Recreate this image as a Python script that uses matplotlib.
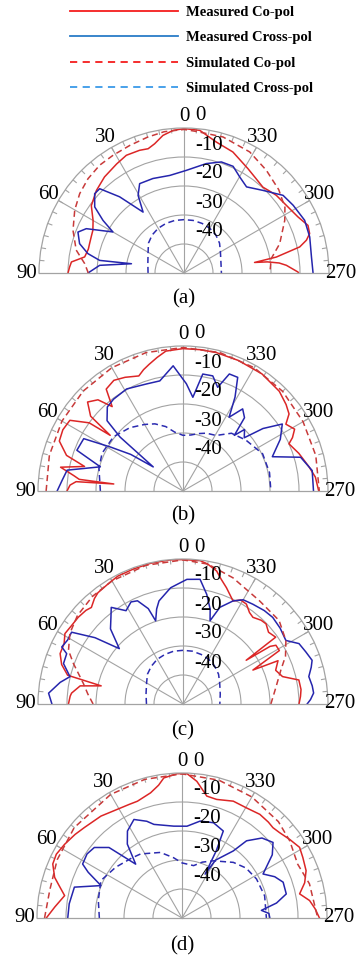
import numpy as np
import matplotlib.pyplot as plt
from matplotlib.lines import Line2D

plt.rcParams['font.family'] = ['Liberation Serif', 'DejaVu Serif']

# ---------- data: angle in deg (+ = left half, 30/60/90; - = right half, 330/300/270), level in dB ----------
# (a)
a_co_meas_th = [90, 87, 84.4, 80.8, 76, 72.7, 68, 64.9, 60, 54, 46.7, 39.6, 31.7, 26.1, 19.9, 16.1, 12.8, 8.7, 4.4,
                0, -6.3, -13.9, -22, -31.5, -37, -42.6, -46, -49.9, -56.5, -63.8, -69, -72.6, -75, -77.3, -80.2,
                -81.5, -82.4, -84, -85.7, -89.5, -90]
a_co_meas_db = [-10, -10.5, -11, -15.3, -16, -15.9, -15.6, -15.3, -13.8, -10.5, -8.5, -7, -5.8, -4.8, -5.0, -5.4,
                -4.3, -2, -0.7, -0.2, -0.5, -3.5, -5, -7.8, -9, -9.8, -9.2, -8.4, -7.7, -6.2, -4.2, -4.6, -6.3,
                -9.1, -17.7, -25.4, -21, -17, -14.6, -10.7, -10.5]
a_co_sim_th = [90, 84.6, 78, 69, 60, 52.7, 45.5, 38, 31, 23, 15, 8, 0, -5, -16, -28.5, -38.7, -48.7, -57, -62.4,
               -73, -80.6, -90]
a_co_sim_db = [-17, -15.6, -12, -9, -6.5, -4.8, -3.6, -2.8, -2.6, -2.2, -1.5, -0.8, -0.5, -1.0, -1.2, -2.5, -4.6,
               -6.5, -8.5, -10.8, -15.5, -19.5, -20.4]
a_x_meas_th = [90, 84.8, 80, 81.5, 78.6, 74.3, 68.9, 65.6, 60, 57, 53.5, 48.4, 45, 40.2, 33.9, 30.6, 26.4, 18.2,
               8.3, -1.3, -11.5, -18.6, -24.7, -30.1, -36, -43.7, -51.9, -58.2, -66.4, -74, -82.8, -90]
a_x_meas_db = [-16.9, -20.8, -31.6, -20.6, -16.2, -12.6, -10.8, -13, -21.7, -16.7, -11.7, -8.8, -8.9, -15.6,
               -24.7, -18.9, -15.6, -15.7, -16, -14.6, -11.5, -9.6, -9.5, -11.7, -13.3, -10.6, -6.6, -5.7, -4.6,
               -4.9, -5.7, -5.5]
a_x_sim_th = [90, 75, 60, 50, 40, 30, 20, 10, 0, -10, -20, -30, -40, -50, -60, -75, -90]
a_x_sim_db = [-37.6, -37.1, -35.7, -34, -32.9, -32.2, -31.8, -31.6, -31.6, -31.6, -31.8, -32.2, -32.9, -34, -35.5,
              -36.8, -37.1]

# (b)
b_co_meas_th = [90, 87, 85, 84.2, 83.6, 82, 79, 76, 73, 68, 63, 58, 54, 52.6, 51, 47, 43, 40, 37, 32, 27, 21, 18,
                15, 11, 7, 0, -7, -13.5, -23, -34, -44, -50, -54, -57, -61, -64, -66, -72, -79, -84, -90]
b_co_meas_db = [-10, -11, -13, -26, -14, -12, -7, -15, -8, -4, -3.5, -4, -10, -18.4, -9, -5, -7, -12, -6, -5, -6,
                -7.5, -6, -4.8, -3.1, -1.4, -0.9, -0.9, -0.9, -1.1, -1.3, -2.2, -3.6, -4.8, -7.7, -6, -8, -10, -8,
                -5.8, -4.1, -3.2]
b_co_sim_th = [90, 75, 60, 45, 30, 15, 0, -15, -30, -45, -60, -75, -90]
b_co_sim_db = [-2.8, -2.3, -1.8, -1.3, -0.9, -0.6, -0.5, -0.6, -0.9, -1.4, -2.2, -2.6, -3]
b_x_meas_th = [90, 84.8, 79.8, 73.7, 69, 62.2, 58.8, 55, 51, 49.4, 47.2, 42, 37.1, 28.9, 18.8, 11.9, 4.5, -1.8,
               -6, -9.6, -14.5, -18.5, -21.6, -25.7, -29, -32, -36, -40, -42.7, -45, -49, -52, -56, -62, -69, -74,
               -81, -90]
b_x_meas_db = [-6.6, -8.2, -9.4, -20.3, -10.8, -11.3, -20.7, -28, -36.8, -21.4, -14.3, -11, -10.3, -9.8, -11,
               -11.2, -6.7, -13, -17.5, -9.1, -9, -12.3, -6.6, -6.5, -13, -20, -15, -17, -23.9, -20, -22, -15, -8.7,
               -12, -17, -7.8, -4.9, -5]
b_x_sim_th = [90, 75, 65, 52, 40, 30, 22.7, 15, 8, 0, -8, -15, -22, -30.8, -40, -51, -65, -78, -90]
b_x_sim_db = [-21.5, -20, -19.2, -19.6, -21.5, -23.5, -24.9, -27, -29.5, -30.8, -30.5, -29.5, -28.5, -27.7, -24,
              -22.1, -19.7, -19.5, -19.7]

# (c)
c_co_meas_th = [90, 86, 84.4, 80, 77.5, 76, 72, 67.7, 63, 59.2, 55, 50.4, 46, 43.5, 40, 37.4, 32, 27, 20, 12.9, 5,
                0, -6.8, -10, -14.2, -17, -20.5, -25.9, -29, -32.4, -36, -38.9, -43, -46, -50, -54.2, -55.3,
                -56.5, -57.7, -61, -64.1, -65.5, -70, -74.6, -78.3, -83, -86.3, -90]
c_co_meas_db = [-10.5, -11, -11.4, -14, -21.1, -9, -6, -4.2, -4, -2.6, -3, -3.1, -3.5, -4.1, -2.5, -1.7, -1.2,
                -0.5, -0.4, -0.2, -0.1, -0.2, -0.2, -1, -2.7, -5, -7.2, -10.5, -9, -9.2, -11, -11.6, -10.5, -10.2,
                -11.5, -10.6, -23.5, -14, -12.1, -12, -23.2, -14, -16, -14.4, -9.2, -9, -9.4, -10]
c_co_sim_th = [90, 84, 78.3, 69.7, 64.9, 58, 50, 40, 30, 15, 0, -10, -21.6, -36.5, -49, -58.3, -65, -70.9, -80,
               -90]
c_co_sim_db = [-19, -17, -14.9, -9.7, -6.4, -4, -2.5, -1.5, -1, -0.5, -0.3, -1, -3.2, -5.7, -6.1, -8.3, -11,
               -14.3, -17.5, -19.7]
c_x_meas_th = [90, 85.4, 80, 76.4, 71.3, 66.6, 64.8, 61, 57.2, 53, 49, 44, 39.7, 36.6, 31.4, 27, 23.8, 20, 18.2,
               15.5, 13.1, 6.1, 2.8, -1.8, -7.8, -12.2, -16, -18, -20.9, -25.9, -30, -35, -41, -46, -52, -58.3,
               -62.5, -67, -71.3, -74, -77.7, -82, -85.2, -88, -90]
c_x_meas_db = [-4.8, -3.5, -7, -9.9, -6.5, -6.3, -3.8, -4.5, -4.3, -12, -20.9, -14, -11.1, -8.5, -12.3, -10.5,
               -11.1, -15, -19.8, -16, -13.5, -9.7, -8.7, -7, -6.6, -11.3, -16, -19.8, -14.3, -10.5, -8.5, -8, -7.3,
               -7, -7.5, -8.3, -4.9, -4, -3, -4, -5.6, -5, -4.8, -6, -7.2]
c_x_sim_th = [90, 75, 60, 50, 40, 30, 20, 10, 0, -10, -20, -30, -40, -50, -60, -75, -90]
c_x_sim_db = [-37.4, -36.8, -35.5, -34, -33, -32.2, -31.8, -31.5, -31.5, -31.5, -31.8, -32.2, -33, -34, -35.4,
              -36.7, -37.3]

# (d)
d_co_meas_th = [90, 85, 79.2, 75, 72.3, 67.3, 63.1, 57.9, 52, 47.2, 38.5, 30.7, 25, 20.9, 14.1, 10, 7.4, 2, -2,
                -6.2, -11.5, -16.3, -23.7, -30.4, -36.9, -42, -45.2, -48.8, -54, -59, -63.4, -69.1, -74, -78.4,
                -82.2, -86, -90]
d_co_meas_db = [-3.2, -6, -8.8, -6, -3.9, -1.7, -1.4, -2.2, -3.2, -4.1, -5.1, -6.4, -6.8, -6.9, -5.5, -3.5, -1.3,
                -0.2, -0.2, -2.6, -7.1, -7.4, -6, -6, -5.3, -5.5, -5.8, -5.3, -4, -2.7, -3.4, -4.2, -6, -8.6, -5.6,
                -4, -2.6]
d_co_sim_th = [90, 78, 65, 50, 30, 15, 0, -15, -30, -45, -54.4, -65, -75, -90]
d_co_sim_db = [-2.6, -3.4, -2.5, -1.5, -0.8, -0.5, -0.3, -0.8, -1.8, -3, -4.3, -6, -4.5, -3.2]
d_x_meas_th = [90, 82.8, 74, 68.2, 64, 61.5, 56, 51.2, 46, 40.7, 36.5, 32.1, 26, 20, 16.7, 5.1, -3.1, -10.6, -18.3,
               -25.4, -27, -27.8, -30, -37.4, -39.9, -45, -50.3, -55, -61.5, -66, -70.5, -77, -81, -84.5, -87, -90]
d_x_meas_db = [-10.6, -10.8, -11.4, -19.9, -14, -11, -10.5, -11.2, -15, -25.5, -18.3, -14.6, -12.2, -14.5, -16.3,
               -18.2, -18.3, -16, -15.4, -16.8, -24, -32.9, -27, -20.9, -15.3, -11, -9.2, -12, -18.2, -15, -13,
               -13.1, -17, -22.5, -20, -19.7]
d_x_sim_th = [90, 78, 65.2, 52.6, 40, 32.9, 18.2, 8, 0, -12.5, -20, -28.8, -42.7, -52, -62.3, -75, -90]
d_x_sim_db = [-21.5, -20.5, -19.2, -21.2, -23, -23.7, -26.2, -29, -31, -31.5, -29.5, -27.5, -23.9, -22, -21, -20.5,
              -20.9]

captions = ['(a)', '(b)', '(c)', '(d)']
theta_tick_deg = [90, 60, 30, 0, -30, -60, -90]
theta_tick_lbl = ['90', '60', '30', '0', '330', '300', '270']
r_tick_val = [0, -10, -20, -30, -40]
r_tick_lbl = ['0', '-10', '-20', '-30', '-40']
legend_labels = ['Measured Co-pol', 'Measured Cross-pol', 'Simulated Co-pol', 'Simulated Cross-pol']

# ---------- style / layout ----------
W, H = 361, 959
R = 145
CENTERS = [(184, 273), (183, 491), (183, 704), (182, 918)]
CAPTION_Y = [299, 516, 731, 946]
RED = '#dc2626'
RED_D = '#c83a3a'
BLUE = '#2525ad'
BLUE_D = '#2b2bb0'
GRID = '#a3a3a3'
FS = 15
LW = 1.1
RIM_TICK = 1.7   # dB, about 5 px

fig = plt.figure(figsize=(W / 100, H / 100), dpi=100)

panels = [
    (a_co_meas_th, a_co_meas_db, a_co_sim_th, a_co_sim_db, a_x_meas_th, a_x_meas_db, a_x_sim_th, a_x_sim_db),
    (b_co_meas_th, b_co_meas_db, b_co_sim_th, b_co_sim_db, b_x_meas_th, b_x_meas_db, b_x_sim_th, b_x_sim_db),
    (c_co_meas_th, c_co_meas_db, c_co_sim_th, c_co_sim_db, c_x_meas_th, c_x_meas_db, c_x_sim_th, c_x_sim_db),
    (d_co_meas_th, d_co_meas_db, d_co_sim_th, d_co_sim_db, d_x_meas_th, d_x_meas_db, d_x_sim_th, d_x_sim_db),
]

for (cx, cy), cap_y, cap, data in zip(CENTERS, CAPTION_Y, captions, panels):
    # polar axes keeps a square box; the half-disc sits centred in it
    ax = fig.add_axes([(cx - R) / W, 1 - (cy + R / 2) / H, 2 * R / W, 2 * R / H], projection='polar')
    ax.set_theta_zero_location('N')
    ax.set_thetamin(-90)
    ax.set_thetamax(90)
    ax.set_rlim(-50, 0)
    ax.set_yticks([-40, -30, -20, -10])
    ax.set_xticks(np.deg2rad([-60, -30, 0, 30, 60]))
    ax.set_xticklabels([])
    ax.set_yticklabels([])
    ax.tick_params(axis='both', length=0)
    ax.grid(True, color=GRID, lw=0.8)
    for s in ['polar', 'start', 'end']:
        ax.spines[s].set_color(GRID)
        ax.spines[s].set_linewidth(0.9)

    # small inward ticks on the rim every 5 deg
    rim = np.deg2rad(np.arange(-85, 90, 5))
    ax.vlines(rim, -RIM_TICK, 0, color=GRID, lw=0.8)

    co_th, co_db, cos_th, cos_db, x_th, x_db, xs_th, xs_db = data
    ax.plot(np.deg2rad(co_th), co_db, color=RED, lw=LW)
    ax.plot(np.deg2rad(x_th), x_db, color=BLUE, lw=LW)
    ax.plot(np.deg2rad(cos_th), cos_db, color=RED_D, lw=LW, ls=(0, (4, 2.5)))
    ax.plot(np.deg2rad(xs_th), xs_db, color=BLUE_D, lw=LW, ls=(0, (4, 2.5)))

    for d, lbl in zip(theta_tick_deg, theta_tick_lbl):
        ax.text(np.deg2rad(d), 4.1, lbl, ha='center', va='center', fontsize=FS, clip_on=False)
    for v, lbl in zip(r_tick_val, r_tick_lbl):
        ax.annotate(lbl, xy=(0, v), xytext=(11, 12), textcoords='offset pixels',
                    ha='left', va='center', fontsize=FS, annotation_clip=False)

    fig.text(cx / W, 1 - cap_y / H, cap, ha='center', va='center', fontsize=FS)

handles = [Line2D([], [], color='#f51c1c', lw=1.3),
           Line2D([], [], color='#2a7cc7', lw=1.3),
           Line2D([], [], color='#f51c1c', lw=1.3, ls=(0, (4, 3))),
           Line2D([], [], color='#3a9ae8', lw=1.3, ls=(0, (4, 3)))]
fig.legend(handles, legend_labels, loc='upper left', bbox_to_anchor=(70 / W, 1 - 5.5 / H),
           bbox_transform=fig.transFigure, frameon=False, borderpad=0, borderaxespad=0,
           handlelength=7.4, handletextpad=0.55, labelspacing=0.84,
           prop={'family': 'Liberation Serif', 'weight': 'bold', 'size': 10.5})

fig.savefig('out.png', dpi=100)
